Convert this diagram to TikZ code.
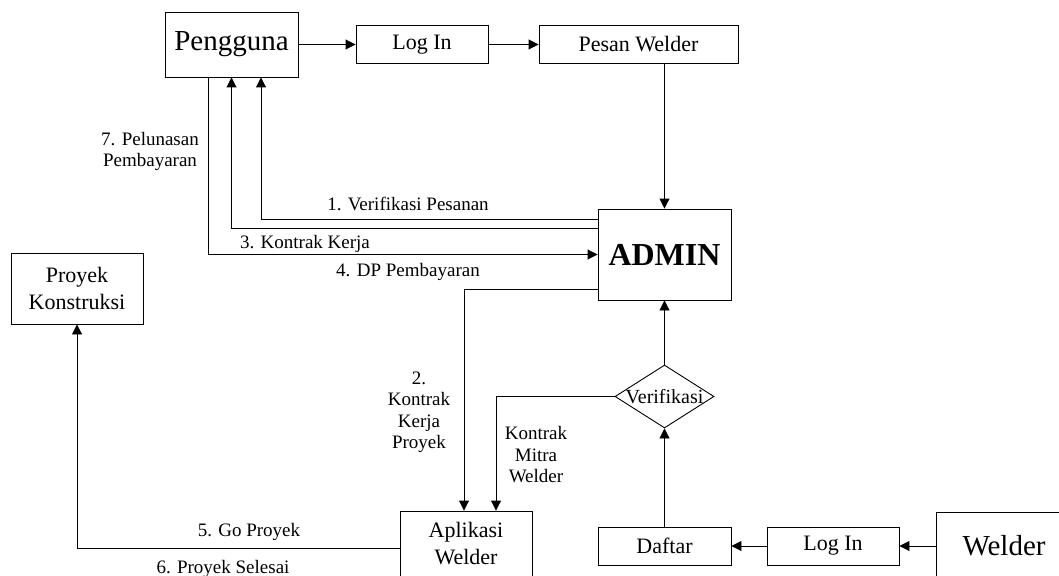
\documentclass[tikz,border=0pt]{standalone}
\usepackage{fontspec}
\setmainfont{Liberation Serif}
\usetikzlibrary{arrows.meta, shapes.geometric}

\begin{document}
\begin{tikzpicture}[x=1pt, y=-1pt, line width=0.9pt, >={Triangle[length=10pt,width=10pt]},
    box/.style={rectangle, draw, text centered, align=center, inner sep=0pt, font=\fontsize{22}{27}\selectfont},
    bigbox/.style={box, font=\fontsize{29}{34}\selectfont},
    decision/.style={diamond, draw, inner sep=0pt, minimum width=99pt, minimum height=63pt, font=\fontsize{20}{24}\selectfont},
    lbl/.style={align=center, inner sep=0pt, font=\fontsize{19}{21.5}\selectfont}]

\useasboundingbox[fill=white] (0,0) rectangle (1059,575);

% Nodes
\node [bigbox, minimum width=133pt, minimum height=65pt] (pengguna) at (231.5,44.5) {Pengguna};
\node [box, right of=pengguna, node distance=190.5pt, minimum width=132pt, minimum height=38pt] (login) {Log In};
\node [box, right of=login, node distance=216.5pt, minimum width=199pt, minimum height=38pt] (pesan) {Pesan Welder};
\node [box, minimum width=133pt, minimum height=91pt, font=\fontsize{32}{38}\selectfont\bfseries] (admin) at (664.5,254.5) {ADMIN};
\node [decision] (verifikasi) at (664.5,396.5) {\makebox[0pt]{Verifikasi}};
\node [box, below of=admin, node distance=291.5pt, minimum width=133pt, minimum height=38pt] (daftar) {Daftar};
\node [box, right of=daftar, node distance=168.5pt, minimum width=132pt, minimum height=38pt] (loginwelder) {Log In};
\node [bigbox, right of=loginwelder, node distance=171pt, minimum width=136pt, minimum height=68pt] (welder) {Welder};
\node [box, minimum width=132pt, minimum height=66pt] (aplikasi) at (466,544) {Aplikasi\\Welder};
\node [box, minimum width=132pt, minimum height=71pt] (proyek) at (77,288.5) {Proyek\\Konstruksi};

% Labels
\node [lbl] (lverif) at (408,204) {1. Verifikasi Pesanan};
\node [lbl] (lkontrak) at (305,244) {3. Kontrak Kerja};
\node [lbl] (ldp) at (408,272) {4. DP Pembayaran};
\node [lbl] (llunas) at (150,151.5) {7. Pelunasan\\Pembayaran};
\node [lbl] (lproyek) at (419,412.5) {2.\\Kontrak\\Kerja\\Proyek};
\node [lbl] (lmitra) at (536,455) {Kontrak\\Mitra\\Welder};
\node [lbl] (lgo) at (249,532) {5. Go Proyek};
\node [lbl] (lselesai) at (223,569) {6. Proyek Selesai};

% Arrows
\draw[->] (pengguna) -- (login);
\draw[->] (login) -- (pesan);
\draw[->] (admin.north |- pesan.south) -- (admin.north);
\draw[->] ([yshift=-10.5pt]admin.north west) -| ([xshift=29.5pt]pengguna.south);
\draw[->] ([yshift=-19.5pt]admin.north west) -| (pengguna.south);
\draw[->] ([xshift=-23.5pt]pengguna.south) |- (admin.west);
\draw[->] ([yshift=11pt]admin.south west) -| ([xshift=-2pt]aplikasi.north);
\draw[->] (verifikasi.west) -| ([xshift=30pt]aplikasi.north);
\draw[->] (verifikasi) -- (admin);
\draw[->] (daftar) -- (verifikasi);
\draw[->] (welder) -- (loginwelder);
\draw[->] (loginwelder) -- (daftar);
\draw[->] ([yshift=-4pt]aplikasi.west) -| (proyek.south);

\end{tikzpicture}
\end{document}
